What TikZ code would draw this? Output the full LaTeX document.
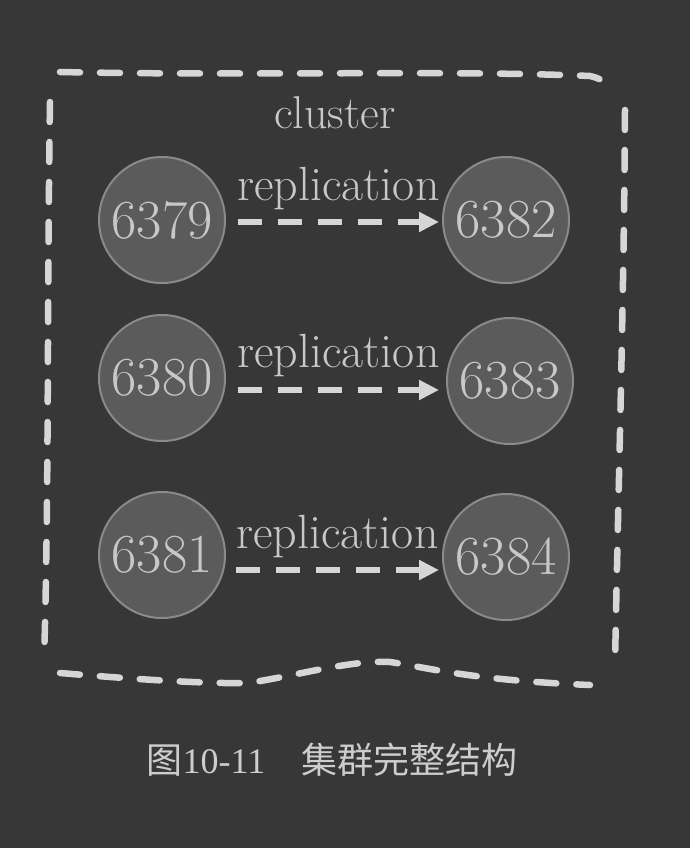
\documentclass[tikz,border=0pt]{standalone}
\usepackage{fontspec}
\newfontfamily\cjk{Noto Sans CJK SC}
\newfontfamily\capserif{Liberation Serif}
\usetikzlibrary{arrows.meta}
\definecolor{bg}{HTML}{373737}
\definecolor{nodefill}{HTML}{5B5B5B}
\definecolor{nodeline}{HTML}{8A8A8A}
\definecolor{nodetext}{HTML}{C8C8C8}
\definecolor{dashcol}{HTML}{D6D6D6}
\definecolor{captext}{HTML}{CDCDCD}
\tikzset{
  server/.style={circle, minimum size=126pt, inner sep=0pt, fill=nodefill, draw=nodeline, line width=2pt,
    text=nodetext, font=\fontsize{55}{55}\selectfont},
  border/.style={draw=dashcol, line width=6.5pt, line cap=round, dash pattern=on 20pt off 20pt},
  rep/.style={draw=dashcol, line width=6.5pt, dash pattern=on 24pt off 16pt,
    -{Triangle[length=20pt,width=19pt]}},
  replabel/.style={text=nodetext, font=\fontsize{48}{48}\selectfont, inner sep=0pt},
}
\begin{document}
\begin{tikzpicture}[x=1pt,y=-1pt]
\fill[bg] (0,0) rectangle (690,848);
\useasboundingbox (0,0) rectangle (690,848);
% border
\draw[border] (60,72) .. controls (250,76) and (450,70) .. (590,76) .. controls (598,78) and (603,80) .. (606,84);
\draw[border] (50,102) .. controls (47,300) and (49,500) .. (44,660);
\draw[border] (625,110) .. controls (624,300) and (618,500) .. (615,665);
\draw[border] (60,673) .. controls (120,678) and (200,684) .. (248,683)
  .. controls (300,675) and (350,660) .. (390,662)
  .. controls (430,668) and (470,680) .. (590,685);
\node[text=nodetext, font=\fontsize{46}{46}\selectfont, inner sep=0pt] (cl) at (335,113) {cluster};
% nodes
\node[server] (n6379) at (162,220) {6379};
\node[server] (n6382) at (506,220) {6382};
\node[server] (n6380) at (162,378) {6380};
\node[server] (n6383) at (510,381) {6383};
\node[server] (n6381) at (162,555) {6381};
\node[server] (n6384) at (506,557) {6384};
% arrows
\draw[rep] ([shift={(12,2)}]n6379.east) -- ([shift={(-3,2)}]n6382.west)
  node[replabel, midway, above=9pt] (r1) {replication};
\draw[rep] ([shift={(12,12)}]n6380.east) -- ([shift={(-7,9)}]n6383.west)
  node[replabel, midway, above=10pt] (r2) {replication};
\draw[rep] ([shift={(10,15)}]n6381.east) -- ([shift={(-3,13)}]n6384.west)
  node[replabel, midway, above=9pt] (r3) {replication};
% caption
\node[text=captext, inner sep=0pt, anchor=base, font=\fontsize{36}{36}\selectfont] (cap) at (332,773)
  {\cjk 图\capserif 10-11\hspace{1em}\cjk 集群完整结构};
\end{tikzpicture}
\end{document}
